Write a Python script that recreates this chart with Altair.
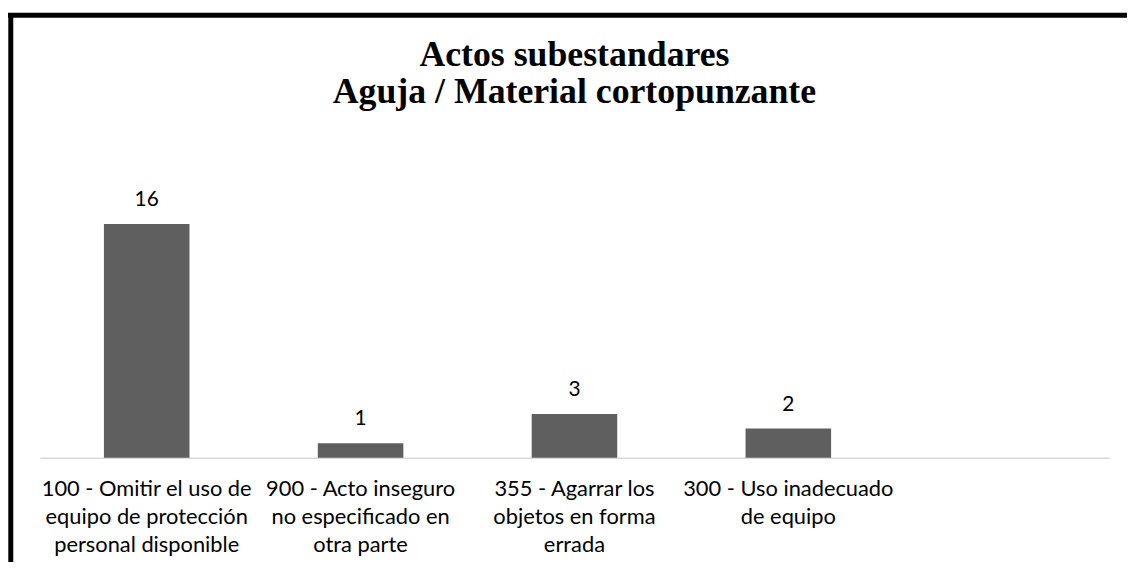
import json
import altair as alt
import pandas as pd

title_lines = ["Actos subestandares", "Aguja / Material cortopunzante"]
categories = [
    "100 - Omitir el uso de equipo de protección personal disponible",
    "900 - Acto inseguro no especificado en otra parte",
    "355 - Agarrar los objetos en forma errada",
    "300 - Uso inadecuado de equipo",
]
values = [16, 1, 3, 2]
label_lines = [
    ["100 - Omitir el uso de", "equipo de protección", "personal disponible"],
    ["900 - Acto inseguro", "no especificado en", "otra parte"],
    ["355 - Agarrar los", "objetos en forma", "errada"],
    ["300 - Uso inadecuado", "de equipo"],
]
empty_slot = " "
domain = categories + [empty_slot]

df = pd.DataFrame({"cat": categories, "value": values})

expr = "''"
for c, lines in reversed(list(zip(categories, label_lines))):
    expr = f"datum.value === {json.dumps(c, ensure_ascii=False)} ? {json.dumps(lines, ensure_ascii=False)} : ({expr})"

W, H = 1077, 265
PAD = {"left": 32, "top": 186, "right": 18, "bottom": 105}
LABEL_FONT = "Lato"

x_enc = alt.X(
    "cat:N",
    sort=domain,
    scale=alt.Scale(domain=domain, paddingInner=0.6, paddingOuter=0.3),
    axis=alt.Axis(
        title=None,
        labelExpr=expr,
        labelAngle=0,
        labelFont=LABEL_FONT,
        labelFontSize=22,
        labelColor="#000000",
        labelLineHeight=28,
        labelPadding=21,
        labelLimit=0,
        labelOverlap=False,
        labelBaseline="top",
        ticks=False,
        domainColor="#d9d9d9",
        domainWidth=1.5,
    ),
)
y_enc = alt.Y("value:Q", scale=alt.Scale(domain=[0, 18]), axis=None)

base = alt.Chart(df).encode(x=x_enc, y=y_enc)
bars = base.mark_bar(color="#5f5f5f")
texts = base.mark_text(
    dy=-18, baseline="alphabetic", font=LABEL_FONT, fontSize=21, color="#000000"
).encode(text="value:Q")

frame = alt.Data(values=[{}])
top_border = alt.Chart(frame).mark_rule(color="#000000", strokeWidth=5).encode(
    x=alt.value(-PAD["left"]), x2=alt.value(W + PAD["right"]), y=alt.value(-180.7)
)
left_border = alt.Chart(frame).mark_rule(color="#000000", strokeWidth=5).encode(
    x=alt.value(-29.2), y=alt.value(-183), y2=alt.value(H + PAD["bottom"])
)

chart = (
    alt.layer(bars, texts, top_border, left_border)
    .properties(
        width=W,
        height=H,
        padding=PAD,
        autosize=alt.AutoSizeParams(type="none"),
        background="white",
        title=alt.TitleParams(
            text=title_lines,
            font="Liberation Serif",
            fontSize=36,
            fontWeight="bold",
            color="#000000",
            anchor="middle",
            frame="group",
            offset=0,
            dy=101,
            lineHeight=37,
        ),
    )
    .configure_view(stroke=None)
)

chart.save("out.html", embed_options={"renderer": "svg", "actions": False})
